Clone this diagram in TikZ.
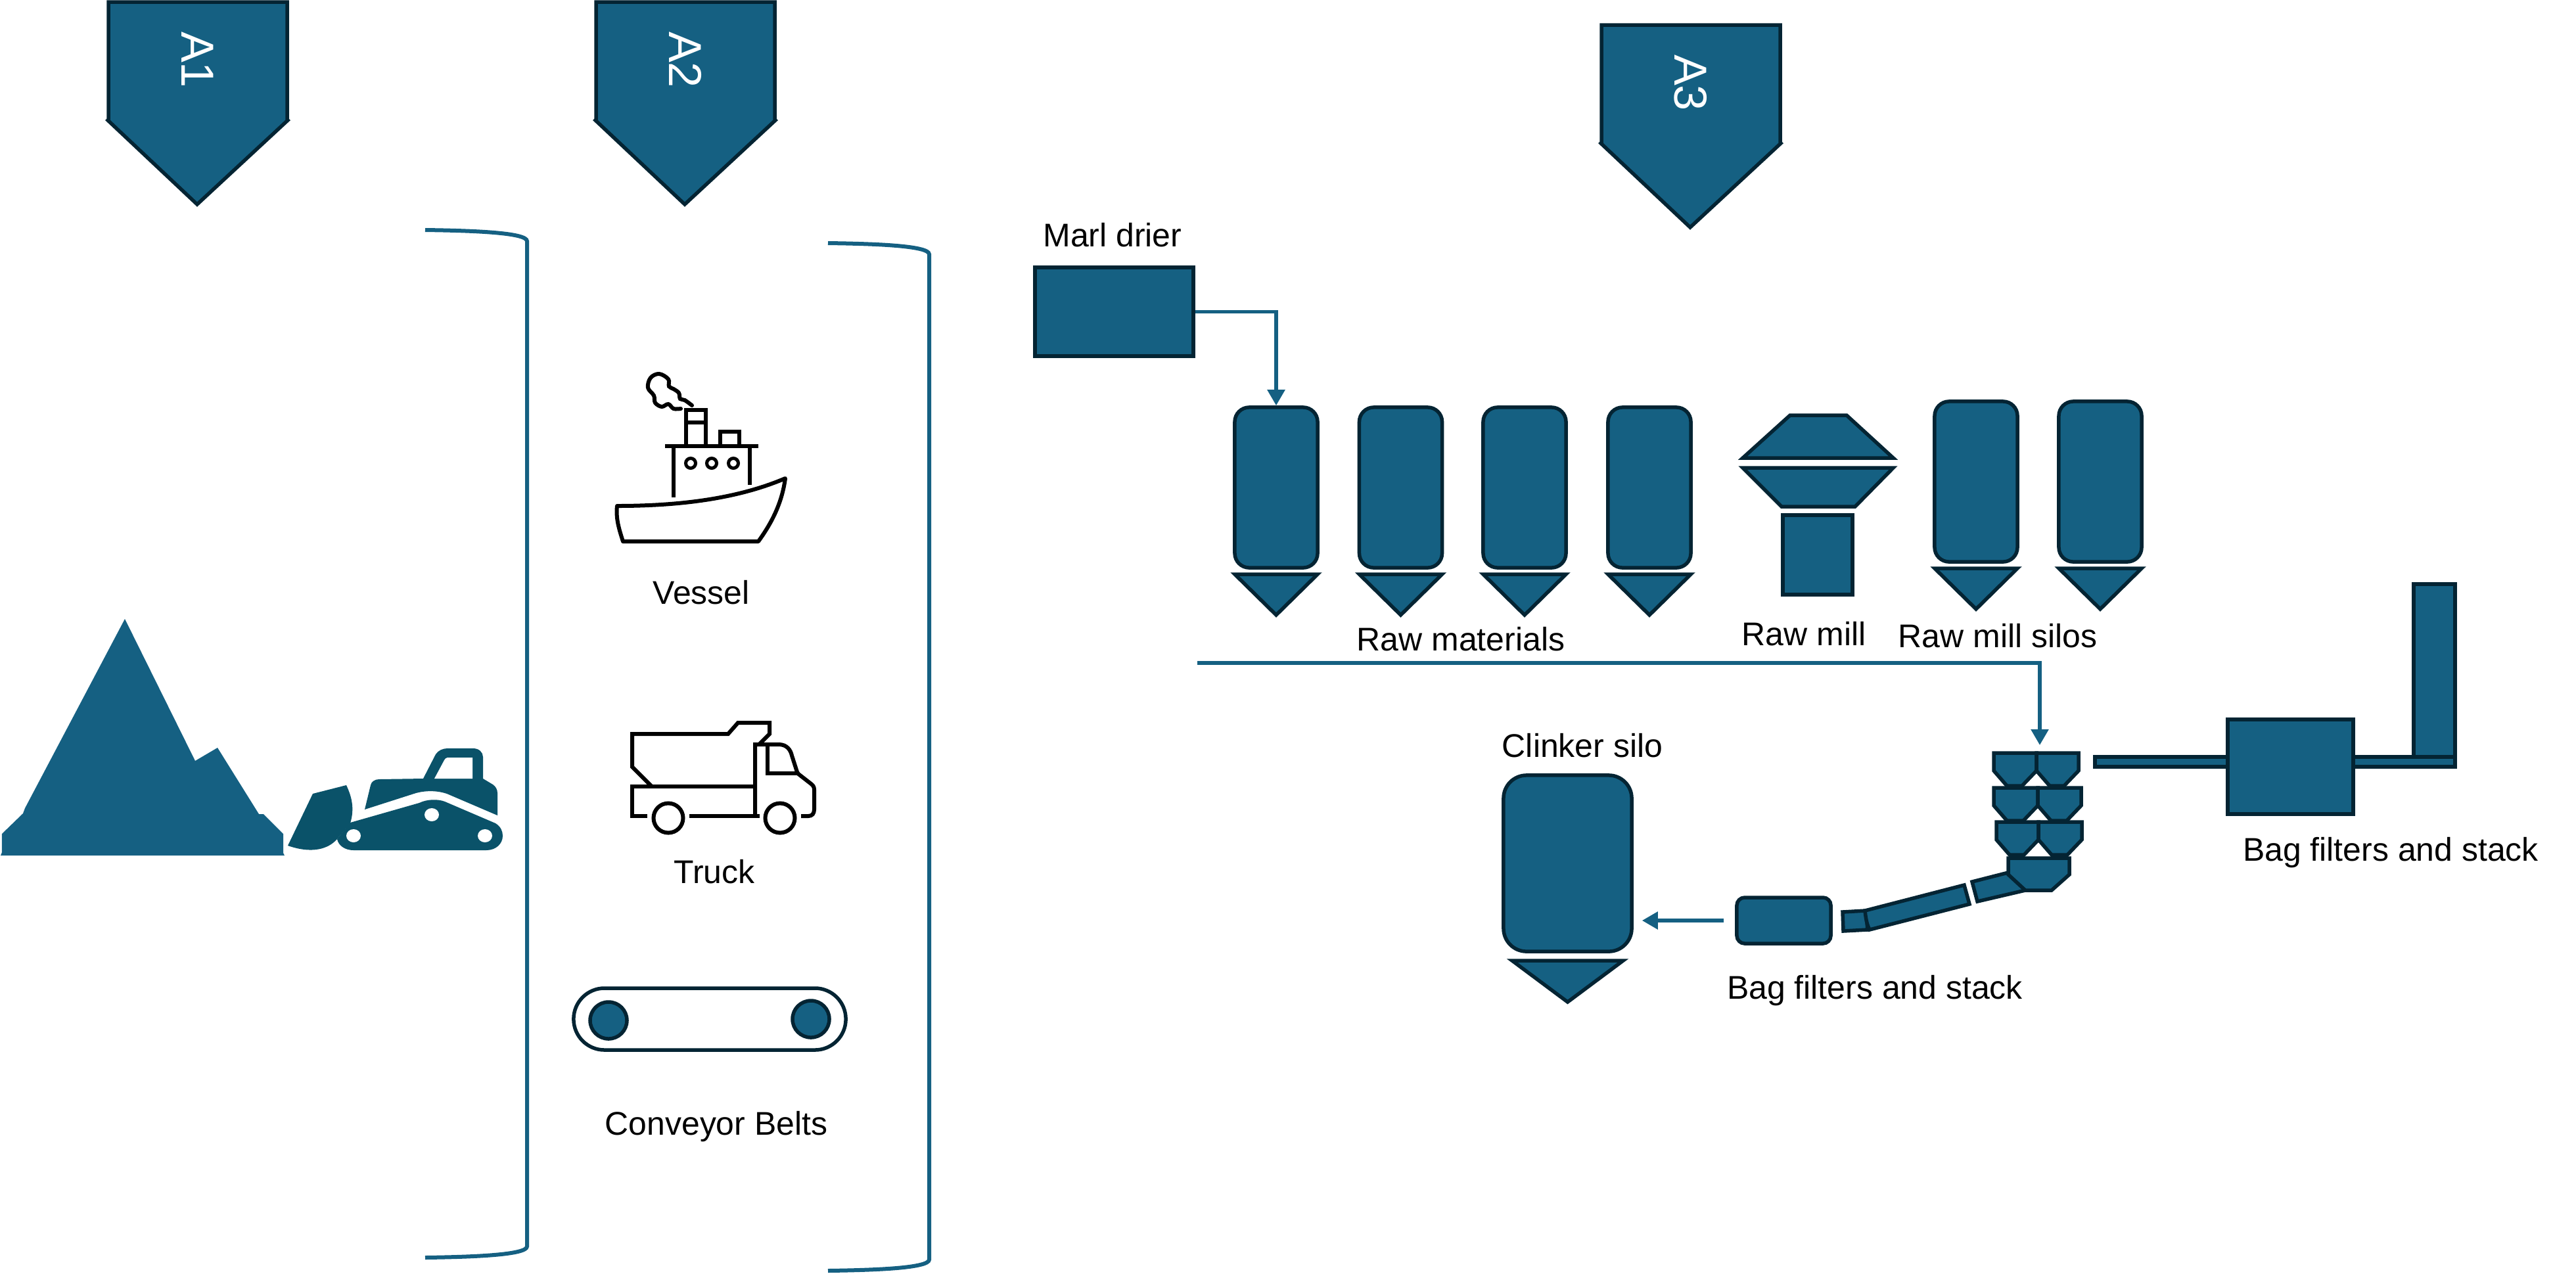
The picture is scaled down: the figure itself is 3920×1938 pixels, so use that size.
\documentclass[tikz,border=0pt]{standalone}
\usepackage{fontspec}
\setmainfont{Liberation Sans}
\usetikzlibrary{arrows.meta}
\definecolor{mteal}{HTML}{156082}
\definecolor{mdark}{HTML}{042433}
\definecolor{mdozer}{HTML}{0A5269}
\tikzstyle{plant} = [line width=0.055cm, draw=mdark, fill=mteal]
\tikzstyle{silo} = [rectangle, plant, rounded corners=0.22cm, minimum width=1.26cm, minimum height=2.44cm, inner sep=0pt]
\tikzstyle{box} = [rectangle, plant, inner sep=0pt]
\tikzstyle{label} = [anchor=base, inner sep=0pt, font=\fontsize{14.2}{17}\selectfont]
\tikzstyle{tag} = [rotate=-90, inner sep=0pt, text=white, font=\fontsize{20}{24}\selectfont]
\tikzstyle{cable} = [line width=0.055cm, draw=mteal, ->, >={Triangle[length=0.24cm, width=0.26cm]}]
\tikzstyle{bracket} = [line width=0.06cm, draw=mteal]
\tikzstyle{icon} = [line width=0.06cm, draw=black]

\begin{document}
\begin{tikzpicture}[x=0.01cm, y=-0.01cm]
\useasboundingbox (0,0) rectangle (3920,1938);
%Tags
\foreach \nme/\dx/\dy in {A1/0/0, A2/742/0, A3/2272/35} {
  \draw [plant] (165+\dx,3+\dy) -- (437+\dx,3+\dy) -- (437+\dx,182+\dy) -- (438+\dx,183+\dy) -- (300+\dx,311+\dy) -- (164+\dx,183+\dy) -- (165+\dx,182+\dy) -- cycle;
  \node (tag\nme) [tag] at (301+\dx,91+\dy) {\nme};
}
%Brackets
\draw [bracket] (647,350) .. controls (720,351) and (802,354) .. (802,367) -- (802,1897) .. controls (802,1910) and (720,1913) .. (647,1914);
\draw [bracket] (1260,370) .. controls (1333,371) and (1414,374) .. (1414,387) -- (1414,1917) .. controls (1414,1930) and (1333,1933) .. (1260,1934);
%Stockpile
\fill [mteal] (1,1302) -- (3,1297) -- (3,1269) -- (35,1238) -- (38,1230) -- (190,942) -- (297,1158) -- (331,1138) -- (394,1239) -- (401,1239) -- (431,1269) -- (431,1298) -- (433,1302) -- cycle;
%Bulldozer
\fill [mdozer] (438,1287) -- (476,1208) -- (527,1195) .. controls (535,1212) and (540,1230) .. (533,1253) -- (513,1277) .. controls (500,1292) and (475,1300) .. (438,1287) -- cycle;
\fill [mdozer] (533,1252) -- (638,1222) .. controls (650,1216) and (667,1216) .. (677,1220) -- (754,1253) .. controls (762,1258) and (765,1265) .. (765,1272) .. controls (765,1284) and (755,1294) .. (740,1294) -- (538,1294) .. controls (525,1294) and (515,1287) .. (513,1277) -- cycle;
\fill [mdozer] (555,1232) -- (564,1195) .. controls (565,1190) and (570,1186) .. (577,1186) -- (644,1185) -- (663,1148) .. controls (667,1142) and (674,1139) .. (681,1139) -- (720,1139) .. controls (729,1139) and (735,1145) .. (735,1152) -- (735,1185) -- (750,1194) .. controls (754,1197) and (757,1201) .. (757,1207) -- (757,1241) -- (680,1208) .. controls (665,1203) and (648,1203) .. (633,1207) -- cycle;
\fill [white] (661,1185) -- (676,1157) .. controls (677,1155) and (679,1153) .. (681,1153) -- (719,1153) -- (719,1185) -- cycle;
\foreach \hx/\hy in {538/1272, 657/1240, 738/1272}
  \fill [white] (\hx,\hy) ellipse [x radius=0.11cm, y radius=0.10cm];
%Vessel
\draw [icon, line join=round] (939,770) .. controls (1030,770) and (1120,760) .. (1195,728) .. controls (1190,765) and (1175,795) .. (1154,824) -- (948,824) .. controls (942,805) and (937,790) .. (939,770) -- cycle;
\draw [icon] (1012,679) -- (1154,679);
\draw [icon] (1025,679) -- (1025,757);
\draw [icon] (1141,679) -- (1141,738);
\draw [icon] (1044,679) -- (1044,624) -- (1074,624) -- (1074,679);
\draw [icon] (1044,643) -- (1074,643);
\draw [icon] (1096,679) -- (1096,657) -- (1125,657) -- (1125,679);
\foreach \px in {1051, 1083, 1116}
  \draw [icon, line width=0.05cm] (\px,705) circle [radius=0.075cm];
\draw [icon, line cap=round] plot [smooth, tension=0.6] coordinates {(1053,617) (1042,609) (1035,607) (1033,598) (1025,592) (1018,588) (1017,577) (1003,569) (990,575) (986,590) (995,602) (997,613) (1007,619) (1017,615) (1025,622) (1036,622)};
\node (vessel) [label] at (1067,919) {Vessel};
%Truck
\draw [icon] (992,1197) -- (962,1167) -- (962,1117) -- (1108,1117) -- (1123,1100) -- (1171,1100) -- (1171,1117) -- (1155,1133);
\draw [icon] (985,1242) -- (962,1242) -- (962,1197) -- (1149,1197);
\draw [icon] (1049,1242) -- (1156,1242);
\draw [icon] (1149,1242) -- (1149,1133) -- (1185,1133) .. controls (1197,1133) and (1203,1141) .. (1205,1150) -- (1213,1175) -- (1215,1178) -- (1233,1192) .. controls (1237,1195) and (1239,1197) .. (1239,1202) -- (1239,1232) .. controls (1239,1238) and (1236,1242) .. (1230,1242) -- (1219,1242);
\draw [icon] (1168,1133) -- (1168,1177) -- (1215,1177);
\foreach \wx in {1017, 1187}
  \draw [icon] (\wx,1245) circle [radius=0.225cm];
\node (truck) [label] at (1087,1344) {Truck};
%Conveyor
\node (belt) [box, fill=white, rounded corners=0.47cm, minimum width=4.14cm, minimum height=0.94cm] at (1080,1551) {};
\foreach \cx/\cy in {926/1553, 1234/1551}
  \draw [plant] (\cx,\cy) circle [radius=0.28cm];
\node (beltlabel) [label] at (1090,1727) {Conveyor Belts};
%Raw materials
\node (marl) [box, minimum width=2.41cm, minimum height=1.35cm] at (1695.5,474.5) {};
\node (marllabel) [label] at (1693,375) {Marl drier};
\foreach \nme/\px in {1/1942, 2/2131.5, 3/2320, 4/2510} {
  \node (rawsilo\nme) [silo] at (\px,742) {};
  \draw [plant] (\px-63,874) -- (\px+63,874) -- (\px,936) -- cycle;
}
\node (rawlabel) [label] at (2223,990) {Raw materials};
\draw [cable] (marl) -| (rawsilo1);
%Raw mill
\draw [plant] (2724,632) -- (2810,632) -- (2881,697) -- (2652,697) -- cycle;
\draw [plant] (2652,712) -- (2881,712) -- (2823,771) -- (2711,771) -- cycle;
\node (millbody) [box, minimum width=1.06cm, minimum height=1.21cm] at (2766,844.5) {};
\node (milllabel) [label] at (2745,982) {Raw mill};
\foreach \nme/\px in {1/3007, 2/3196} {
  \node (millsilo\nme) [silo] at (\px,733) {};
  \draw [plant] (\px-63,865) -- (\px+63,865) -- (\px,927) -- cycle;
}
\node (millsilolabel) [label] at (3040,985) {Raw mill silos};
%Preheater
\coordinate (feedstart) at (1822,1009);
\coordinate (preheaterin) at (3104,1134);
\draw [cable] (feedstart) -| (preheaterin);
\draw [plant] (2804,1388) -- (2839,1386) -- (2842,1415) -- (2805,1417) -- cycle;
\draw [plant] (2838,1386) -- (2989,1347) -- (2997,1376) -- (2845,1415) .. controls (2840,1405) and (2839,1395) .. (2838,1386) -- cycle;
\draw [plant] (3001,1342) -- (3056,1328) -- (3082,1355) -- (3009,1372) -- cycle;
\foreach \xa/\xb/\ya in {3034/3099/1146, 3099/3163/1146, 3034/3101/1199, 3101/3167/1199, 3038/3102/1251, 3102/3168/1251}
  \draw [plant] (\xa,\ya) -- (\xb,\ya) -- (\xb,\ya+27) -- (\xb-22,\ya+50) -- (\xa+20,\ya+50) -- (\xa,\ya+27) -- cycle;
\draw [plant] (3056,1306) -- (3149,1306) -- (3149,1331) -- (3122,1355) -- (3082,1355) -- (3056,1331) -- cycle;
%Bag filters
\node (bagfilter) [box, rounded corners=0.12cm, minimum width=1.43cm, minimum height=0.70cm] at (2714.5,1401) {};
\node (baglabel) [label] at (2853,1520) {Bag filters and stack};
%Clinker silo
\node (clinkersilo) [silo, rounded corners=0.35cm, minimum width=1.95cm, minimum height=2.68cm] at (2385.5,1314) {};
\draw [plant] (2301,1462) -- (2470,1462) -- (2385.5,1525) -- cycle;
\node (clinkerlabel) [label] at (2408,1152) {Clinker silo};
\draw [cable, shorten <=0.17cm, shorten >=0.13cm] (bagfilter.west) -- (bagfilter.west -| clinkersilo.east);
%Stack
\draw [plant] (3673,889) -- (3736,889) -- (3736,1155) -- (3673,1155) -- cycle;
\draw [plant] (3188,1152) -- (3400,1152) -- (3400,1167) -- (3188,1167) -- cycle;
\draw [plant] (3570,1152) -- (3736,1152) -- (3736,1167) -- (3570,1167) -- cycle;
\node (stackbox) [box, minimum width=1.91cm, minimum height=1.44cm] at (3485.5,1167) {};
\node (stacklabel) [label] at (3638,1310) {Bag filters and stack};
\end{tikzpicture}
\end{document}
